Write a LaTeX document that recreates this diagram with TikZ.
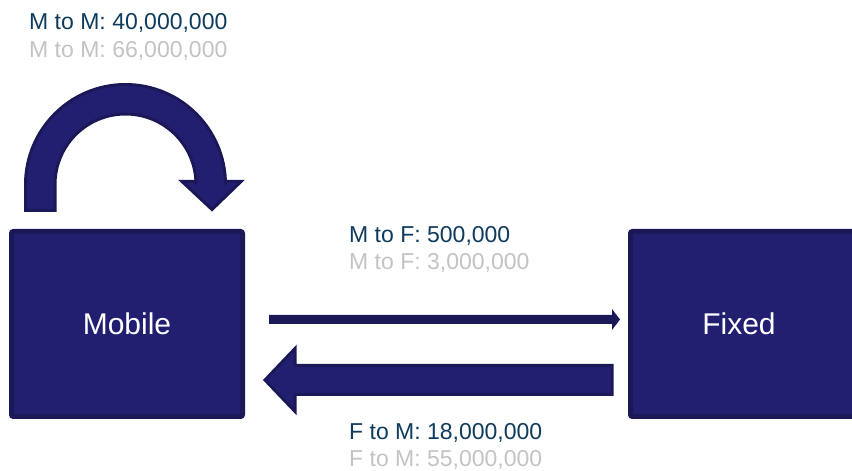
\documentclass[tikz,border=0pt]{standalone}
\usepackage{fontspec}
\setmainfont{Liberation Sans}
\usetikzlibrary{calc}
\definecolor{boxfill}{HTML}{231F70}
\definecolor{boxline}{HTML}{1B1858}
\definecolor{labdark}{HTML}{0E3B5C}
\definecolor{labgrey}{HTML}{C3C3C3}
\tikzset{
  block/.style={draw=boxline, fill=boxfill, line width=5pt, rounded corners=2pt},
  blocktext/.style={text=white, font=\fontsize{30}{36}\selectfont},
  lab/.style={anchor=base west, inner sep=0pt, font=\fontsize{23}{28}\selectfont},
  arrowbody/.style={fill=boxfill, draw=boxline, line width=3pt, line join=miter},
  thinarrow/.style={fill=boxline, draw=none}
}
\begin{document}
\begin{tikzpicture}[x=1pt,y=1pt]
\useasboundingbox (0,0) rectangle (852,471);
\clip (0,0) rectangle (852,471);
% boxes
\draw[block] (11.5,54.5) rectangle (242.5,239.5);
\draw[block] (630.5,54.5) rectangle (870,239.5);
\node[blocktext] (mobile) at (127,147) {Mobile};
\node[blocktext] (fixed) at (739,147) {Fixed};
% named coordinates for connectors
\coordinate (mfstart) at (269,151.5);
\coordinate (mftip) at (620,151.5);
\coordinate (fmstart) at (612,91);
\coordinate (fmtip) at (265,91);
% thin arrow M -> F
\fill[thinarrow] ($(mfstart)+(0,4.5)$) -- ($(mftip)+(-8,4.5)$) -- ($(mftip)+(-8,10.5)$)
  -- (mftip) -- ($(mftip)+(-8,-10.5)$) -- ($(mftip)+(-8,-4.5)$) -- ($(mfstart)+(0,-4.5)$) -- cycle;
% thick arrow F -> M
\draw[arrowbody] ($(fmstart)+(0,14.5)$) -- ($(fmtip)+(30,14.5)$) -- ($(fmtip)+(30,31.5)$)
  -- (fmtip) -- ($(fmtip)+(30,-31.5)$) -- ($(fmtip)+(30,-14.5)$) -- ($(fmstart)+(0,-14.5)$) -- cycle;
% curved self arrow on Mobile
\draw[arrowbody] (25.5,260.5) -- (25.5,286.5)
  arc[start angle=180, end angle=0, radius=100] -- (226,289.5)
  -- (241,289.5) -- (212,261.5) -- (182,289.5) -- (196,289.5) -- (196,286.5)
  arc[start angle=0, end angle=180, radius=70.5] -- (55,260.5) -- cycle;
% labels
\node[lab, text=labdark] (mm1) at (29,441) {M to M: 40,000,000};
\node[lab, text=labgrey] (mm2) at (29,413) {M to M: 66,000,000};
\node[lab, text=labdark] (mf1) at (349,228) {M to F: 500,000};
\node[lab, text=labgrey] (mf2) at (349,201) {M to F: 3,000,000};
\node[lab, text=labdark] (fm1) at (349,31) {F to M: 18,000,000};
\node[lab, text=labgrey] (fm2) at (349,4) {F to M: 55,000,000};
\end{tikzpicture}
\end{document}
